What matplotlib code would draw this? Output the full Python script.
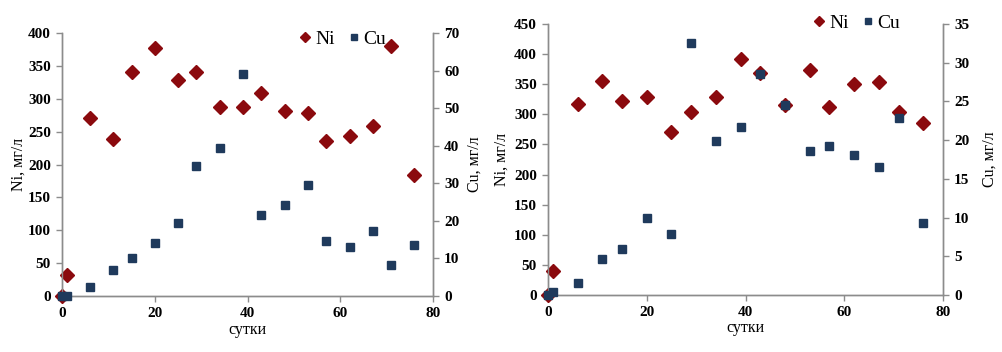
import matplotlib.pyplot as plt
from matplotlib.lines import Line2D

# --- data ---
days_1 = [0, 1, 6, 11, 15, 20, 25, 29, 34, 39, 43, 48, 53, 57, 62, 67, 71, 76]
ni_1 = [0, 32, 270, 239, 341, 377, 328, 341, 288, 287, 308, 281, 279, 236, 243, 259, 380, 184]
cu_1 = [0, 0, 2.5, 6.8, 10.0, 14.0, 19.3, 34.5, 39.3, 59.1, 21.6, 24.2, 29.5, 14.7, 13.1, 17.3, 8.3, 13.6]

days_2 = [0, 1, 6, 11, 15, 20, 25, 29, 34, 39, 43, 48, 53, 57, 62, 67, 71, 76]
ni_2 = [0, 40, 317, 355, 322, 329, 270, 304, 329, 392, 368, 315, 373, 312, 351, 354, 304, 285]
cu_2 = [0, 0.4, 1.5, 4.7, 5.9, 9.9, 7.9, 32.5, 19.9, 21.7, 28.6, 24.5, 18.6, 19.3, 18.1, 16.5, 22.8, 9.3]

ni_ticks_1 = [0, 50, 100, 150, 200, 250, 300, 350, 400]
cu_ticks_1 = [0, 10, 20, 30, 40, 50, 60, 70]
ni_ticks_2 = [0, 50, 100, 150, 200, 250, 300, 350, 400, 450]
cu_ticks_2 = [0, 5, 10, 15, 20, 25, 30, 35]
day_ticks = [0, 20, 40, 60, 80]

ni_color = '#8b0a0e'
cu_color = '#1f3a5c'
spine_color = '#8c8c8c'

plt.rcParams['font.family'] = ['Liberation Serif', 'DejaVu Serif']

fig = plt.figure(figsize=(10.02, 3.52), dpi=100)


def make_panel(rect, days, ni, cu, ni_ticks, cu_ticks, ni_lab_x, cu_lab_x, leg_xy):
    ax = fig.add_axes(rect)
    ax2 = ax.twinx()
    ax.plot(days, ni, 'D', color=ni_color, markersize=7, zorder=3, clip_on=False)
    ax2.plot(days, cu, 's', color=cu_color, markersize=6, zorder=3, clip_on=False)

    ax.set_xlim(0, 80)
    ax.set_ylim(ni_ticks[0], ni_ticks[-1])
    ax2.set_ylim(cu_ticks[0], cu_ticks[-1])
    ax.set_xticks(day_ticks)
    ax.set_yticks(ni_ticks)
    ax2.set_yticks(cu_ticks)

    for a in (ax, ax2):
        a.spines['top'].set_visible(False)
        for s in a.spines.values():
            s.set_color(spine_color)
            s.set_linewidth(1.0)
        a.tick_params(direction='out', length=4, width=1, color=spine_color,
                      labelsize=11, pad=4)
        for lbl in a.get_xticklabels() + a.get_yticklabels():
            lbl.set_fontweight('bold')

    ax.set_xlabel('сутки', fontsize=11.5, labelpad=1)
    ax.set_ylabel('Ni, мг/л', fontsize=11.5)
    ax2.set_ylabel('Cu, мг/л', fontsize=11.5)
    ax.yaxis.set_label_coords(ni_lab_x, 0.5)
    ax2.yaxis.set_label_coords(cu_lab_x, 0.5)

    handles = [
        Line2D([], [], marker='D', color=ni_color, linestyle='none', markersize=5),
        Line2D([], [], marker='s', color=cu_color, linestyle='none', markersize=5),
    ]
    ax2.legend(handles, ['Ni', 'Cu'], loc='center', bbox_to_anchor=leg_xy,
               ncol=2, frameon=False, fontsize=14, handletextpad=0.2,
               handlelength=0.6, columnspacing=0.7, borderpad=0, borderaxespad=0)
    return ax, ax2


make_panel([62 / 1002, 56 / 352, 371 / 1002, 263 / 352],
           days_1, ni_1, cu_1, ni_ticks_1, cu_ticks_1, -0.094, 1.092, (0.757, 0.977))
make_panel([548 / 1002, 57 / 352, 395 / 1002, 271 / 352],
           days_2, ni_2, cu_2, ni_ticks_2, cu_ticks_2, -0.096, 1.099, (0.782, 1.004))

fig.savefig('out.png', dpi=100)
